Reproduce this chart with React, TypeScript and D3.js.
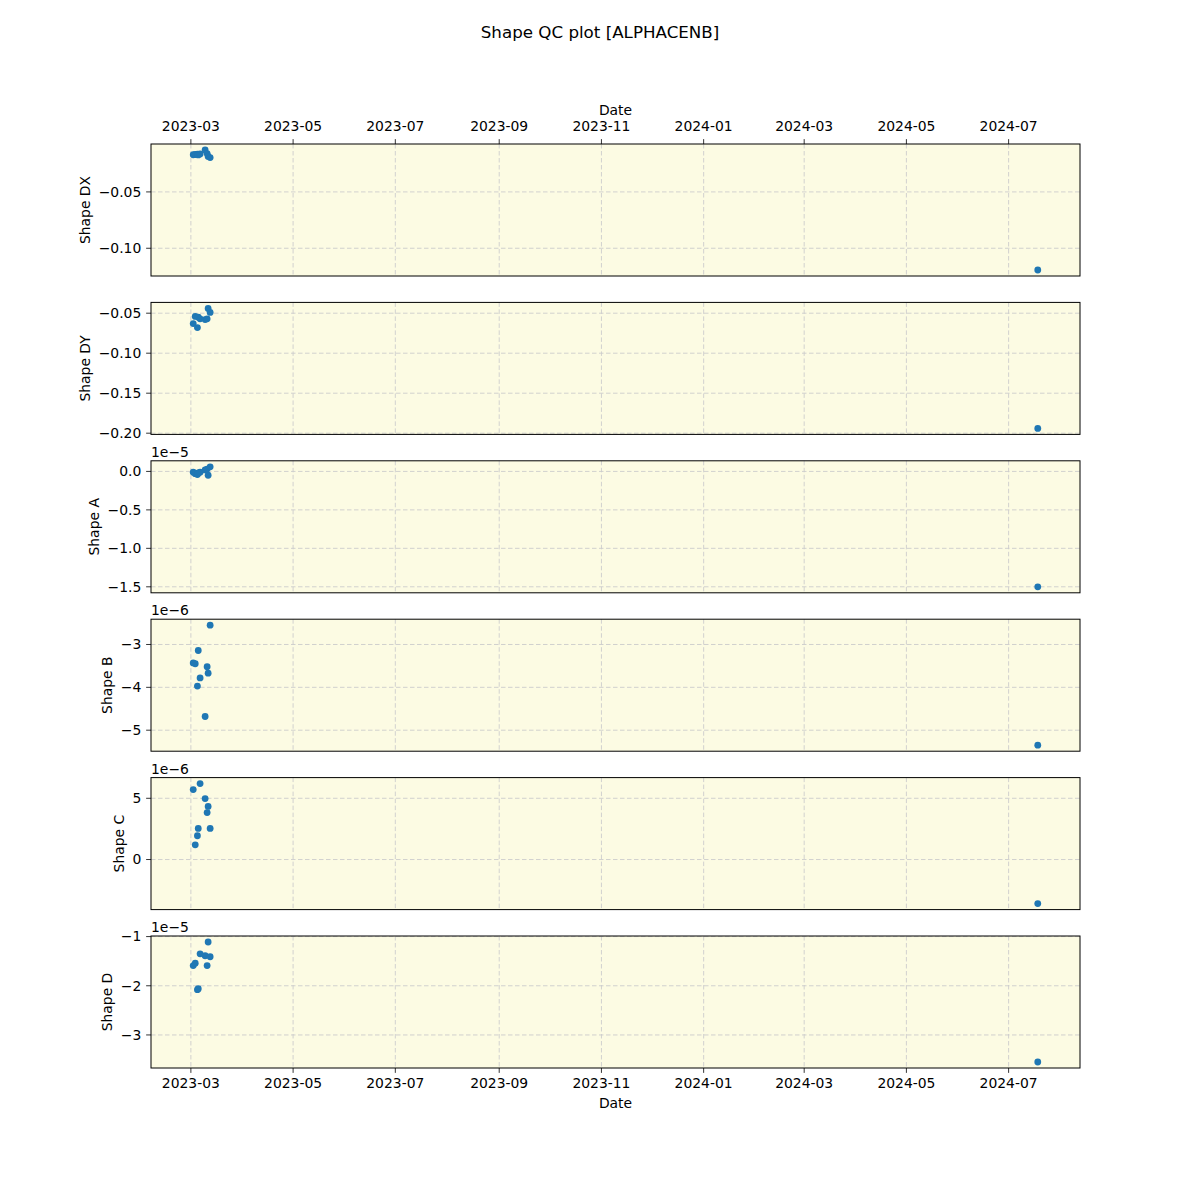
import React, { useEffect, useRef } from "react";
import * as d3 from "d3";

// Observation times (UTC)
const obsTimes = [
  "2023-03-02T09:36:00Z",
  "2023-03-03T14:24:00Z",
  "2023-03-04T21:36:00Z",
  "2023-03-05T09:36:00Z",
  "2023-03-06T12:00:00Z",
  "2023-03-09T12:00:00Z",
  "2023-03-10T16:48:00Z",
  "2023-03-11T07:12:00Z",
  "2023-03-12T12:00:00Z",
  "2024-07-18T09:36:00Z",
];

const shapeDX = [-0.0170, -0.0168, -0.0165, -0.0172, -0.0163, -0.0128, -0.0160, -0.0185, -0.0195, -0.1193];
const shapeDY = [-0.063, -0.054, -0.068, -0.055, -0.057, -0.058, -0.057, -0.044, -0.049, -0.194];
const shapeA = [-0.01e-5, -0.03e-5, -0.04e-5, -0.02e-5, -0.01e-5, 0.02e-5, 0.03e-5, -0.05e-5, 0.06e-5, -1.50e-5];
const shapeB = [-3.43e-6, -3.45e-6, -3.97e-6, -3.14e-6, -3.78e-6, -4.68e-6, -3.52e-6, -3.67e-6, -2.55e-6, -5.35e-6];
const shapeC = [5.71e-6, 1.2e-6, 1.94e-6, 2.54e-6, 6.2e-6, 4.98e-6, 3.83e-6, 4.34e-6, 2.54e-6, -3.6e-6];
const shapeD = [-1.59e-5, -1.54e-5, -2.08e-5, -2.06e-5, -1.35e-5, -1.39e-5, -1.59e-5, -1.11e-5, -1.41e-5, -3.55e-5];

const panelNames = ["Shape DX", "Shape DY", "Shape A", "Shape B", "Shape C", "Shape D"];
const panelSeries = [shapeDX, shapeDY, shapeA, shapeB, shapeC, shapeD];
const offsetScales = [1, 1, 1e-5, 1e-6, 1e-6, 1e-5];
const offsetLabels = ["", "", "1e\u22125", "1e\u22126", "1e\u22126", "1e\u22125"];
const yTickValues = [
  [-0.05, -0.1],
  [-0.05, -0.1, -0.15, -0.2],
  [0.0, -0.5, -1.0, -1.5],
  [-3, -4, -5],
  [5, 0],
  [-1, -2, -3],
];
const yTickLabels = [
  ["\u22120.05", "\u22120.10"],
  ["\u22120.05", "\u22120.10", "\u22120.15", "\u22120.20"],
  ["0.0", "\u22120.5", "\u22121.0", "\u22121.5"],
  ["\u22123", "\u22124", "\u22125"],
  ["5", "0"],
  ["\u22121", "\u22122", "\u22123"],
];
const xTickDates = [
  "2023-03-01", "2023-05-01", "2023-07-01", "2023-09-01", "2023-11-01",
  "2024-01-01", "2024-03-01", "2024-05-01", "2024-07-01",
];
const xTickLabels = [
  "2023-03", "2023-05", "2023-07", "2023-09", "2023-11",
  "2024-01", "2024-03", "2024-05", "2024-07",
];

const TITLE = "Shape QC plot [ALPHACENB]";
const FONT = "'DejaVu Sans', sans-serif";

export default function App() {
  const ref = useRef<SVGSVGElement | null>(null);

  useEffect(() => {
    const svg = d3.select(ref.current);
    svg.selectAll("*").remove();

    const W = 1200;
    const left = 151;
    const right = 1080;
    const top = 144;
    const bottom = 1068;
    const nP = 6;
    const gapRatio = 0.2;
    const ph = (bottom - top) / (nP + (nP - 1) * gapRatio);
    const gap = ph * gapRatio;
    const tickLen = 4.86;
    const tickPad = 4.86;
    const fs = 13.9;
    const gridColor = "#cccccc";
    const gridDash = "4.5,2.5";

    const times = obsTimes.map((t) => new Date(t));
    const [t0, t1] = d3.extent(times) as [Date, Date];
    const span = +t1 - +t0;
    const x = d3
      .scaleUtc()
      .domain([new Date(+t0 - span * 0.05), new Date(+t1 + span * 0.05)])
      .range([left, right]);
    const xTicks = xTickDates.map((d) => new Date(d + "T00:00:00Z"));

    svg
      .append("text")
      .attr("x", W / 2)
      .attr("y", 38)
      .attr("text-anchor", "middle")
      .attr("font-family", FONT)
      .attr("font-size", 16.7)
      .attr("fill", "#000")
      .text(TITLE);

    panelSeries.forEach((series, i) => {
      const py = top + i * (ph + gap);
      const g = svg.append("g");
      const vals = series.map((v) => v / offsetScales[i]);
      const [v0, v1] = d3.extent(vals) as [number, number];
      const vs = v1 - v0;
      const y = d3
        .scaleLinear()
        .domain([v0 - vs * 0.05, v1 + vs * 0.05])
        .range([py + ph, py]);

      g.append("rect")
        .attr("x", left)
        .attr("y", py)
        .attr("width", right - left)
        .attr("height", ph)
        .attr("fill", "#fcfbe3");

      // grid
      xTicks.forEach((t) => {
        g.append("line")
          .attr("x1", x(t))
          .attr("x2", x(t))
          .attr("y1", py)
          .attr("y2", py + ph)
          .attr("stroke", gridColor)
          .attr("stroke-width", 0.9)
          .attr("stroke-dasharray", gridDash);
      });
      yTickValues[i].forEach((v) => {
        g.append("line")
          .attr("x1", left)
          .attr("x2", right)
          .attr("y1", y(v))
          .attr("y2", y(v))
          .attr("stroke", gridColor)
          .attr("stroke-width", 0.9)
          .attr("stroke-dasharray", gridDash);
      });

      // points
      g.selectAll("circle.pt")
        .data(vals.map((v, k) => ({ t: times[k], v })))
        .enter()
        .append("circle")
        .attr("class", "pt")
        .attr("cx", (d) => x(d.t))
        .attr("cy", (d) => y(d.v))
        .attr("r", 3.4)
        .attr("fill", "#1f77b4");

      // frame
      g.append("rect")
        .attr("x", left)
        .attr("y", py)
        .attr("width", right - left)
        .attr("height", ph)
        .attr("fill", "none")
        .attr("stroke", "#000")
        .attr("stroke-width", 1);

      // y ticks
      const yt = g.append("g");
      yTickValues[i].forEach((v, k) => {
        yt.append("line")
          .attr("x1", left - tickLen)
          .attr("x2", left)
          .attr("y1", y(v))
          .attr("y2", y(v))
          .attr("stroke", "#000")
          .attr("stroke-width", 0.8);
        yt.append("text")
          .attr("x", left - tickLen - tickPad)
          .attr("y", y(v))
          .attr("dy", "0.35em")
          .attr("text-anchor", "end")
          .attr("font-family", FONT)
          .attr("font-size", fs)
          .attr("fill", "#000")
          .text(yTickLabels[i][k]);
      });
      const bb = (yt.node() as SVGGElement).getBBox();

      g.append("text")
        .attr("transform", `translate(${bb.x - 5.6 - 3},${py + ph / 2}) rotate(-90)`)
        .attr("text-anchor", "middle")
        .attr("font-family", FONT)
        .attr("font-size", fs)
        .attr("fill", "#000")
        .text(panelNames[i]);

      if (offsetLabels[i]) {
        g.append("text")
          .attr("x", left)
          .attr("y", py - 4)
          .attr("font-family", FONT)
          .attr("font-size", fs)
          .attr("fill", "#000")
          .text(offsetLabels[i]);
      }

      // x ticks
      if (i === 0) {
        xTicks.forEach((t, k) => {
          g.append("line")
            .attr("x1", x(t))
            .attr("x2", x(t))
            .attr("y1", py - tickLen)
            .attr("y2", py)
            .attr("stroke", "#000")
            .attr("stroke-width", 0.8);
          g.append("text")
            .attr("x", x(t))
            .attr("y", py - tickLen - tickPad - 3)
            .attr("text-anchor", "middle")
            .attr("font-family", FONT)
            .attr("font-size", fs)
            .attr("fill", "#000")
            .text(xTickLabels[k]);
        });
        g.append("text")
          .attr("x", (left + right) / 2)
          .attr("y", 115)
          .attr("text-anchor", "middle")
          .attr("font-family", FONT)
          .attr("font-size", fs)
          .attr("fill", "#000")
          .text("Date");
      }
      if (i === nP - 1) {
        xTicks.forEach((t, k) => {
          g.append("line")
            .attr("x1", x(t))
            .attr("x2", x(t))
            .attr("y1", py + ph)
            .attr("y2", py + ph + tickLen)
            .attr("stroke", "#000")
            .attr("stroke-width", 0.8);
          g.append("text")
            .attr("x", x(t))
            .attr("y", py + ph + tickLen + tickPad + 10.5)
            .attr("text-anchor", "middle")
            .attr("font-family", FONT)
            .attr("font-size", fs)
            .attr("fill", "#000")
            .text(xTickLabels[k]);
        });
        g.append("text")
          .attr("x", (left + right) / 2)
          .attr("y", py + ph + 40)
          .attr("text-anchor", "middle")
          .attr("font-family", FONT)
          .attr("font-size", fs)
          .attr("fill", "#000")
          .text("Date");
      }
    });
  }, []);

  return (
    <svg
      ref={ref}
      width={1200}
      height={1200}
      style={{ position: "absolute", left: 0, top: 0, background: "#fff" }}
    />
  );
}
